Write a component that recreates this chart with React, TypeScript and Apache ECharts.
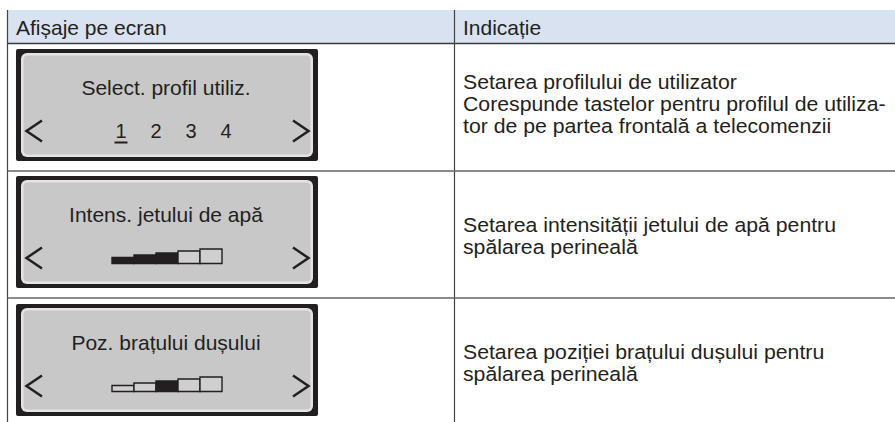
import React, { useEffect, useRef } from "react";
import * as echarts from "echarts";

// ---- content ----
const headers = ["Afișaje pe ecran", "Indicație"];
const screenTitles = ["Select. profil utiliz.", "Intens. jetului de apă", "Poz. brațului dușului"];
const profileNumbers = ["1", "2", "3", "4"];
const selectedProfile = 0;
const intensityLevels = [1, 1, 1, 0, 0];
const positionLevels = [0, 0, 1, 0, 0];
const descriptions = [
  [
    "Setarea profilului de utilizator",
    "Corespunde tastelor pentru profilul de utiliza-",
    "tor de pe partea frontală a telecomenzii",
  ],
  ["Setarea intensității jetului de apă pentru", "spălarea perineală"],
  ["Setarea poziției brațului dușului pentru", "spălarea perineală"],
];
const segmentHeights = [6, 8.5, 10.5, 12.5, 14.5];

// ---- layout ----
const W = 895;
const H = 422;
const FONT = "'Liberation Sans', Arial, Helvetica, sans-serif";
const INK = "#231f20";
const TABLE_LEFT = 7.5;
const DIVIDER_X = 454.5;
const HEADER_TOP = 10;
const HEADER_BOTTOM = 43.5;
const rowLines = [171, 298];
const panelTops = [49, 176, 304];
const descBaselines = [89, 232.5, 359.5];
const LINE_H = 22;
const DESC_FONT = 19.5;
const DESC_STRETCH = 1.09;
const PANEL_X = 16;
const PANEL_W = 302;
const PANEL_H = 112;
const PANEL_CX = PANEL_X + PANEL_W / 2;

function panel(top: number): any[] {
  return [
    { type: "rect", shape: { x: PANEL_X, y: top, width: PANEL_W, height: PANEL_H, r: 2 }, style: { fill: INK } },
    { type: "rect", shape: { x: PANEL_X + 5, y: top + 4, width: PANEL_W - 10, height: PANEL_H - 8, r: 6 }, style: { fill: "#e4e4e4" } },
    { type: "rect", shape: { x: PANEL_X + 7.5, y: top + 6.5, width: PANEL_W - 15, height: PANEL_H - 13, r: 4 }, style: { fill: "#c8c8c8" } },
  ];
}

function arrows(top: number): any[] {
  const cy = top + 82;
  const h = 10.5;
  return [
    {
      type: "polyline",
      shape: { points: [[42, cy - h], [26.5, cy], [42, cy + h]] },
      style: { stroke: INK, lineWidth: 2.5, fill: null },
    },
    {
      type: "polyline",
      shape: { points: [[293, cy - h], [308.5, cy], [293, cy + h]] },
      style: { stroke: INK, lineWidth: 2.5, fill: null },
    },
  ];
}

function title(top: number, text: string): any {
  return {
    type: "text",
    x: PANEL_CX - 1,
    y: top + 46 - 7.3,
    style: { text, fontSize: 21, fontFamily: FONT, fill: INK, align: "center", verticalAlign: "middle" },
  };
}

function levelBar(top: number, levels: number[]): any[] {
  const segW = 22;
  const start = PANEL_CX - (segW * levels.length) / 2;
  const bottom = top + 87.5;
  return levels.map((on, i) => ({
    type: "rect",
    shape: { x: start + i * segW, y: bottom - segmentHeights[i], width: segW, height: segmentHeights[i] },
    style: { fill: on ? INK : "#cfcfcf", stroke: INK, lineWidth: 1.4 },
  }));
}

export default function App() {
  const ref = useRef<HTMLDivElement>(null);
  useEffect(() => {
    if (!ref.current) return;
    const chart = echarts.init(ref.current, null, { renderer: "svg" });
    const els: any[] = [];

    // header
    els.push({ type: "rect", shape: { x: TABLE_LEFT, y: HEADER_TOP, width: W - TABLE_LEFT, height: HEADER_BOTTOM - HEADER_TOP }, style: { fill: "#d9e2f1" } });
    els.push({ type: "line", shape: { x1: TABLE_LEFT, y1: HEADER_BOTTOM, x2: W, y2: HEADER_BOTTOM }, style: { stroke: "#3a3a3a", lineWidth: 1.5 } });
    els.push({ type: "text", x: 16, y: 35 - 7.3, style: { text: headers[0], fontSize: 21, fontFamily: FONT, fill: INK, align: "left", verticalAlign: "middle" } });
    els.push({ type: "text", x: 463, y: 35 - 7.3, style: { text: headers[1], fontSize: 21, fontFamily: FONT, fill: INK, align: "left", verticalAlign: "middle" } });

    // grid lines
    els.push({ type: "line", shape: { x1: TABLE_LEFT, y1: HEADER_TOP, x2: TABLE_LEFT, y2: H }, style: { stroke: "#444", lineWidth: 1.2 } });
    els.push({ type: "line", shape: { x1: DIVIDER_X, y1: HEADER_TOP, x2: DIVIDER_X, y2: H }, style: { stroke: "#444", lineWidth: 1.2 } });
    rowLines.forEach((y) => {
      els.push({ type: "line", shape: { x1: TABLE_LEFT, y1: y, x2: W, y2: y }, style: { stroke: "#666", lineWidth: 1.6 } });
    });

    // panels
    panelTops.forEach((top, i) => {
      els.push(...panel(top));
      els.push(title(top, screenTitles[i]));
      els.push(...arrows(top));
    });

    // profile numbers
    const t0 = panelTops[0];
    profileNumbers.forEach((n, i) => {
      els.push({
        type: "text",
        x: 121 + i * 35,
        y: t0 + 89 - 7,
        style: { text: n, fontSize: 20, fontFamily: FONT, fill: INK, align: "center", verticalAlign: "middle" },
      });
    });
    els.push({
      type: "rect",
      shape: { x: 121 + selectedProfile * 35 - 6.5, y: t0 + 92.5, width: 13, height: 2 },
      style: { fill: INK },
    });

    els.push(...levelBar(panelTops[1], intensityLevels));
    els.push(...levelBar(panelTops[2], positionLevels));

    // descriptions (one multi-line text block per row)
    descriptions.forEach((lines, r) => {
      els.push({
        type: "text",
        x: 463,
        y: descBaselines[r] - 0.3465 * DESC_FONT - LINE_H / 2,
        scaleX: DESC_STRETCH,
        style: {
          text: lines.join("\n"),
          fontSize: DESC_FONT,
          lineHeight: LINE_H,
          fontFamily: FONT,
          fill: INK,
          align: "left",
          verticalAlign: "top",
        },
      });
    });

    chart.setOption({ animation: false, graphic: { elements: els } });
    return () => chart.dispose();
  }, []);
  return (
    <div
      ref={ref}
      style={{ position: "fixed", left: 0, top: 0, width: W, height: H, background: "#ffffff" }}
    />
  );
}
